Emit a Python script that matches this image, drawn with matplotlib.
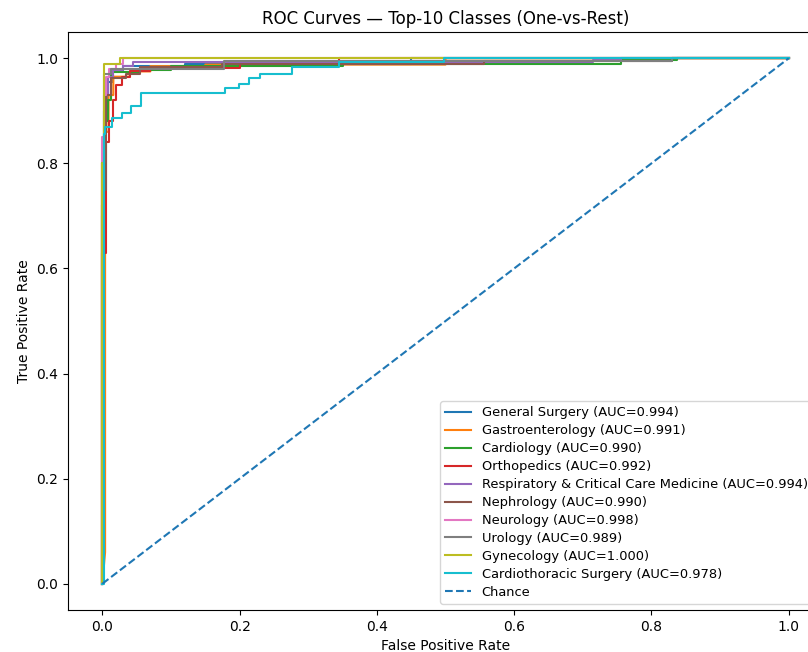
import matplotlib
matplotlib.use("Agg")
import matplotlib.pyplot as plt

# class names and AUCs (legend order)
classes = ["General Surgery", "Gastroenterology", "Cardiology", "Orthopedics",
           "Respiratory & Critical Care Medicine", "Nephrology", "Neurology",
           "Urology", "Gynecology", "Cardiothoracic Surgery"]
aucs = [0.994, 0.991, 0.990, 0.992, 0.994, 0.990, 0.998, 0.989, 1.000, 0.978]

# ROC vertices (fpr, tpr)
fpr_gs = [0, 0, 0.003, 0.003, 0.008, 0.008, 0.015, 0.015, 0.03, 0.03, 0.12, 0.12, 0.45, 0.45, 1]
tpr_gs = [0, 0.70, 0.70, 0.90, 0.90, 0.955, 0.955, 0.975, 0.975, 0.985, 0.985, 0.99, 0.99, 1.0, 1]

fpr_ga = [0, 0.004, 0.004, 0.009, 0.009, 0.016, 0.016, 0.04, 0.04, 0.07, 0.07, 0.15, 0.15, 0.5, 0.5, 1]
tpr_ga = [0, 0.06, 0.86, 0.86, 0.93, 0.93, 0.965, 0.965, 0.975, 0.975, 0.985, 0.985, 0.988, 0.988, 1, 1]

fpr_ca = [0, 0, 0.004, 0.004, 0.008, 0.008, 0.012, 0.012, 0.055, 0.055, 0.1, 0.1, 0.35, 0.35, 0.755, 0.755, 0.837, 0.837, 1]
tpr_ca = [0, 0.72, 0.72, 0.88, 0.88, 0.92, 0.92, 0.973, 0.973, 0.978, 0.978, 0.985, 0.985, 0.99, 0.99, 0.997, 0.997, 1, 1]

fpr_or = [0, 0, 0.006, 0.006, 0.010, 0.010, 0.015, 0.015, 0.020, 0.020, 0.028, 0.028, 0.04, 0.04, 0.07, 0.07, 0.2, 0.2, 0.345, 0.345, 1]
tpr_or = [0, 0.63, 0.63, 0.84, 0.84, 0.88, 0.88, 0.92, 0.92, 0.95, 0.95, 0.965, 0.965, 0.975, 0.975, 0.982, 0.982, 0.991, 0.991, 1.0, 1]

fpr_re = [0, 0, 0.004, 0.004, 0.008, 0.008, 0.015, 0.015, 0.03, 0.03, 0.045, 0.045, 0.715, 0.715, 0.755, 0.755, 1]
tpr_re = [0, 0.80, 0.80, 0.93, 0.93, 0.965, 0.965, 0.977, 0.977, 0.985, 0.985, 0.993, 0.993, 0.996, 0.996, 1, 1]

fpr_ne = [0, 0, 0.005, 0.005, 0.012, 0.012, 0.034, 0.034, 0.055, 0.055, 0.174, 0.174, 0.556, 0.556, 0.83, 0.83, 1]
tpr_ne = [0, 0.75, 0.75, 0.93, 0.93, 0.962, 0.962, 0.971, 0.971, 0.984, 0.984, 0.99, 0.99, 0.995, 0.995, 1, 1]

fpr_nu = [0, 0, 0.003, 0.003, 0.006, 0.006, 0.01, 0.01, 0.02, 0.02, 0.03, 0.03, 1]
tpr_nu = [0, 0.85, 0.85, 0.93, 0.93, 0.965, 0.965, 0.98, 0.98, 0.99, 0.99, 1, 1]

fpr_ur = [0, 0, 0.003, 0.003, 0.012, 0.012, 0.177, 0.177, 0.83, 0.83, 1]
tpr_ur = [0, 0.80, 0.80, 0.97, 0.97, 0.98, 0.98, 0.994, 0.994, 1, 1]

fpr_gy = [0, 0, 0.002, 0.002, 0.025, 0.025, 1]
tpr_gy = [0, 0.80, 0.80, 0.99, 0.99, 1, 1]

fpr_ct = [0, 0.002, 0.002, 0.004, 0.004, 0.0145, 0.0145, 0.028, 0.028, 0.042, 0.042, 0.057, 0.057, 0.179,
          0.179, 0.199, 0.199, 0.213, 0.213, 0.23, 0.23, 0.276, 0.276, 0.345, 0.345, 0.498, 0.498, 1]
tpr_ct = [0, 0, 0.855, 0.855, 0.869, 0.869, 0.886, 0.886, 0.895, 0.895, 0.91, 0.91, 0.933, 0.933,
          0.943, 0.943, 0.952, 0.952, 0.962, 0.962, 0.971, 0.971, 0.983, 0.983, 0.993, 0.993, 1, 1]

curves = [(fpr_gs, tpr_gs), (fpr_ga, tpr_ga), (fpr_ca, tpr_ca), (fpr_or, tpr_or), (fpr_re, tpr_re),
          (fpr_ne, tpr_ne), (fpr_nu, tpr_nu), (fpr_ur, tpr_ur), (fpr_gy, tpr_gy), (fpr_ct, tpr_ct)]

fig = plt.figure(figsize=(8.08, 6.52), dpi=100)
# the original image is cropped on the right, so the axes run past the edge
ax = fig.add_axes([0.0842, 0.0644, 0.9344, 0.8865])

for (f, t), name, a in zip(curves, classes, aucs):
    ax.plot(f, t, label=f"{name} (AUC={a:.3f})")
ax.plot([0, 1], [0, 1], linestyle="--", label="Chance")

ax.set_xlabel("False Positive Rate")
ax.set_ylabel("True Positive Rate")
ax.set_title("ROC Curves — Top-10 Classes (One-vs-Rest)")
ax.legend(loc="lower left", bbox_to_anchor=(0.4927, 0.0104), borderaxespad=0,
          fontsize=9.35, labelspacing=0.38)

fig.savefig("out.png", dpi=100)
